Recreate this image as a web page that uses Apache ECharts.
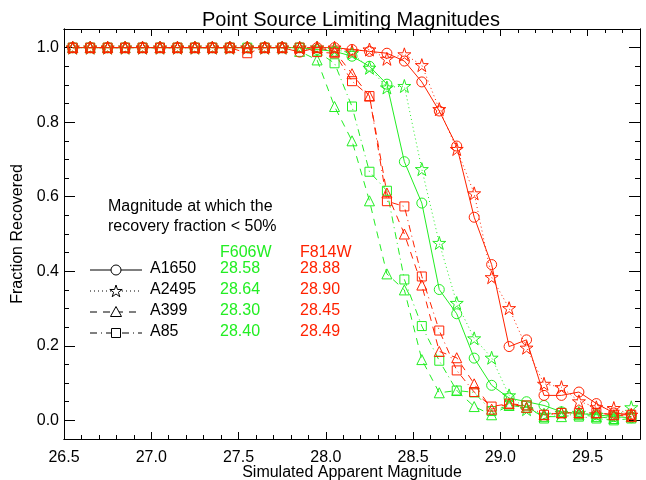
<!DOCTYPE html>
<html>
<head>
<meta charset="utf-8">
<script src="https://cdn.jsdelivr.net/npm/echarts@6/dist/echarts.min.js"></script>
<style>
html, body { margin: 0; padding: 0; background: #fff; }
#chart { width: 646px; height: 480px; }
</style>
</head>
<body>
<div id="chart"></div>
<script>
// simulated magnitudes (bin centres)
var mags = [26.55, 26.65, 26.75, 26.85, 26.95, 27.05, 27.15, 27.25, 27.35, 27.45, 27.55,
            27.65, 27.75, 27.85, 27.95, 28.05, 28.15, 28.25, 28.35, 28.45, 28.55, 28.65,
            28.75, 28.85, 28.95, 29.05, 29.15, 29.25, 29.35, 29.45, 29.55, 29.65, 29.75];

// F606W recovery fractions
var g1650 = [1, 1, 1, 1, 1, 1, 1, 1, 1, 1, 1, 1, 1, 1, 0.995, 0.99, 0.977, 0.95, 0.902, 0.694, 0.583, 0.351,
             0.286, 0.167, 0.094, 0.06, 0.05, 0.04, 0.023, 0.018, 0.015, 0.01, 0.007];
var g2495 = [1, 1, 1, 1, 1, 1, 1, 1, 1, 1, 1, 1, 1, 1, 1, 0.995, 0.985, 0.946, 0.893, 0.897, 0.674, 0.476,
             0.315, 0.22, 0.168, 0.067, 0.03, 0.015, 0.02, 0.02, 0.015, 0.01, 0.035];
var g399  = [1, 1, 1, 1, 1, 1, 1, 1, 1, 1, 1, 1, 1, 0.99, 0.967, 0.842, 0.75, 0.589, 0.393, 0.35, 0.163, 0.074,
             0.08, 0.037, 0.015, 0.04, 0.035, 0.01, 0.01, 0.015, 0.01, 0.005, 0.01];
var g85   = [1, 1, 1, 1, 1, 1, 1, 1, 1, 1, 1, 1, 1, 1, 0.99, 0.958, 0.842, 0.667, 0.616, 0.378, 0.253, 0.16,
             0.08, 0.075, 0.025, 0.04, 0.04, 0.005, 0.02, 0.01, 0.005, 0, 0.005];

// F814W recovery fractions
var r1650 = [1, 1, 1, 1, 1, 1, 1, 1, 1, 1, 1, 1, 1, 0.988, 1, 1, 0.995, 0.99, 0.985, 0.964, 0.908, 0.83,
             0.736, 0.545, 0.418, 0.198, 0.216, 0.067, 0.067, 0.076, 0.045, 0.02, 0.015];
var r2495 = [1, 1, 1, 1, 1, 1, 1, 1, 1, 1, 1, 1, 1, 1, 1, 1, 0.99, 0.995, 0.97, 0.982, 0.953, 0.835,
             0.728, 0.609, 0.384, 0.301, 0.195, 0.098, 0.089, 0.051, 0.035, 0.033, 0.015];
var r399  = [1, 1, 1, 1, 1, 1, 1, 1, 1, 1, 1, 1, 1, 1, 1, 0.99, 0.93, 0.87, 0.61, 0.5, 0.363, 0.185,
             0.168, 0.098, 0.03, 0.045, 0.035, 0.015, 0.02, 0.02, 0.02, 0.015, 0.01];
var r85   = [1, 1, 1, 1, 1, 1, 1, 1, 1, 1, 0.985, 1, 1, 1, 0.988, 0.985, 0.91, 0.87, 0.588, 0.574, 0.386, 0.241,
             0.134, 0.076, 0.037, 0.045, 0.04, 0.015, 0.02, 0.02, 0.02, 0.015, 0.015];

var xTicks = [26.5, 27.0, 27.5, 28.0, 28.5, 29.0, 29.5];
var yTicks = [0.0, 0.2, 0.4, 0.6, 0.8, 1.0];

// legend table
var clusters = ['A1650', 'A2495', 'A399', 'A85'];
var lim606 = ['28.58', '28.64', '28.30', '28.40'];
var lim814 = ['28.88', '28.90', '28.45', '28.49'];

var GREEN = '#22ee22', RED = '#ff2200';
var FONT = 'Liberation Sans, Arial, Helvetica, sans-serif';
var STAR = 'path://M0,-10L2.25,-3.09L9.51,-3.09L3.63,1.18L5.88,8.09L0,3.82L-5.88,8.09L-3.63,1.18L-9.51,-3.09L-2.25,-3.09Z';

var styles = [
    {symbol: 'circle', size: 10, dash: 'solid'},
    {symbol: STAR, size: 13, dash: [1, 3]},
    {symbol: 'triangle', size: 10, dash: [7, 6]},
    {symbol: 'rect', size: 9, dash: [7, 4, 1, 4]}
];

// minor tick positions
var xMinor = [], yMinor = [];
for (var i = 1; i < 33; i++) xMinor.push(Math.round((26.5 + i * 0.1) * 10) / 10);
for (var j = 1; j < 21; j++) yMinor.push(Math.round(j * 0.05 * 100) / 100);

function xAxisDef(pos, ticks, len, withLabels) {
    return {
        type: 'value', position: pos, min: 26.5, max: 29.8,
        axisLine: {show: true, onZero: false, lineStyle: {color: '#000', width: 1}},
        axisTick: {show: true, inside: true, length: len, customValues: ticks, lineStyle: {color: '#000', width: 1}},
        axisLabel: {show: withLabels, customValues: ticks, margin: 11, color: '#000', fontSize: 16, fontFamily: FONT,
            formatter: function (v) { return v.toFixed(1); }},
        splitLine: {show: false}
    };
}
function yAxisDef(pos, ticks, len, withLabels) {
    return {
        type: 'value', position: pos, min: -0.05, max: 1.05,
        axisLine: {show: true, onZero: false, lineStyle: {color: '#000', width: 1}},
        axisTick: {show: true, inside: true, length: len, customValues: ticks, lineStyle: {color: '#000', width: 1}},
        axisLabel: {show: withLabels, customValues: ticks, margin: 5, color: '#000', fontSize: 16, fontFamily: FONT,
            formatter: function (v) { return v.toFixed(1); }},
        splitLine: {show: false}
    };
}

var xAxes = [
    xAxisDef('bottom', xTicks, 7, true),
    xAxisDef('bottom', xMinor, 4, false),
    xAxisDef('top', xTicks, 7, false),
    xAxisDef('top', xMinor, 4, false)
];
xAxes[0].name = 'Simulated Apparent Magnitude';
xAxes[0].nameLocation = 'middle';
xAxes[0].nameGap = 26;
xAxes[0].nameMoveOverlap = false;
xAxes[0].nameTextStyle = {color: '#000', fontSize: 16, fontFamily: FONT};

var yAxes = [
    yAxisDef('left', yTicks, 11, true),
    yAxisDef('left', yMinor, 5, false),
    yAxisDef('right', yTicks, 11, false),
    yAxisDef('right', yMinor, 5, false)
];
yAxes[0].name = 'Fraction Recovered';
yAxes[0].nameLocation = 'middle';
yAxes[0].nameGap = 38;
yAxes[0].nameMoveOverlap = false;
yAxes[0].nameTextStyle = {color: '#000', fontSize: 16, fontFamily: FONT};

function makeSeries(name, vals, color, st) {
    return {
        name: name, type: 'line', xAxisIndex: 0, yAxisIndex: 0,
        data: mags.map(function (m, k) { return [m, vals[k]]; }),
        symbol: st.symbol, symbolSize: st.size,
        lineStyle: {color: color, width: 1, type: st.dash},
        itemStyle: {color: 'rgba(0,0,0,0)', borderColor: color, borderWidth: 1},
        emphasis: {disabled: true},
        animation: false
    };
}

var series = [
    makeSeries('A1650 F606W', g1650, GREEN, styles[0]),
    makeSeries('A2495 F606W', g2495, GREEN, styles[1]),
    makeSeries('A399 F606W', g399, GREEN, styles[2]),
    makeSeries('A85 F606W', g85, GREEN, styles[3]),
    makeSeries('A1650 F814W', r1650, RED, styles[0]),
    makeSeries('A2495 F814W', r2495, RED, styles[1]),
    makeSeries('A399 F814W', r399, RED, styles[2]),
    makeSeries('A85 F814W', r85, RED, styles[3])
];

// legend table drawn as graphics
var graphics = [
    {type: 'text', left: 108, top: 199, style: {text: 'Magnitude at which the', fill: '#000', font: '16px ' + FONT}},
    {type: 'text', left: 108, top: 219, style: {text: 'recovery fraction < 50%', fill: '#000', font: '16px ' + FONT}},
    {type: 'text', left: 220, top: 245, style: {text: 'F606W', fill: GREEN, font: '16px ' + FONT}},
    {type: 'text', left: 300, top: 245, style: {text: 'F814W', fill: RED, font: '16px ' + FONT}}
];
var rowY = [270, 291, 312, 333];
var mx = 116;
function starPoints(cx, cy, r) {
    var pts = [];
    for (var k = 0; k < 10; k++) {
        var a = -Math.PI / 2 + k * Math.PI / 5;
        var rr = k % 2 === 0 ? r : r * 0.382;
        pts.push([cx + rr * Math.cos(a), cy + rr * Math.sin(a)]);
    }
    return pts;
}
clusters.forEach(function (c, k) {
    var y = rowY[k];
    var dash = styles[k].dash === 'solid' ? null : styles[k].dash;
    graphics.push({type: 'line', shape: {x1: 90, y1: y, x2: 142, y2: y},
        style: {stroke: '#000', lineWidth: 1, lineDash: dash}});
    var mk;
    if (k === 0) mk = {type: 'circle', shape: {cx: mx, cy: y, r: 5}};
    else if (k === 1) mk = {type: 'polygon', shape: {points: starPoints(mx, y + 0.5, 6.5)}};
    else if (k === 2) mk = {type: 'polygon', shape: {points: [[mx, y - 5.5], [mx + 5.5, y + 4.5], [mx - 5.5, y + 4.5]]}};
    else mk = {type: 'rect', shape: {x: mx - 4.5, y: y - 4.5, width: 9, height: 9}};
    mk.style = {fill: '#fff', stroke: '#000', lineWidth: 1};
    graphics.push(mk);
    graphics.push({type: 'text', left: 150, top: y - 9, style: {text: c, fill: '#000', font: '16px ' + FONT}});
    graphics.push({type: 'text', left: 220, top: y - 9, style: {text: lim606[k], fill: GREEN, font: '16px ' + FONT}});
    graphics.push({type: 'text', left: 300, top: y - 9, style: {text: lim814[k], fill: RED, font: '16px ' + FONT}});
});

var chart = echarts.init(document.getElementById('chart'));
chart.setOption({
    backgroundColor: '#fff',
    animation: false,
    title: {
        text: 'Point Source Limiting Magnitudes',
        left: 346, top: 5, textAlign: 'center',
        textStyle: {color: '#000', fontSize: 20, fontWeight: 'normal', fontFamily: FONT}
    },
    grid: {left: 64, right: 6, top: 29, bottom: 41, containLabel: false, outerBoundsMode: 'none'},
    xAxis: xAxes,
    yAxis: yAxes,
    series: series,
    graphic: graphics
});
</script>
</body>
</html>
